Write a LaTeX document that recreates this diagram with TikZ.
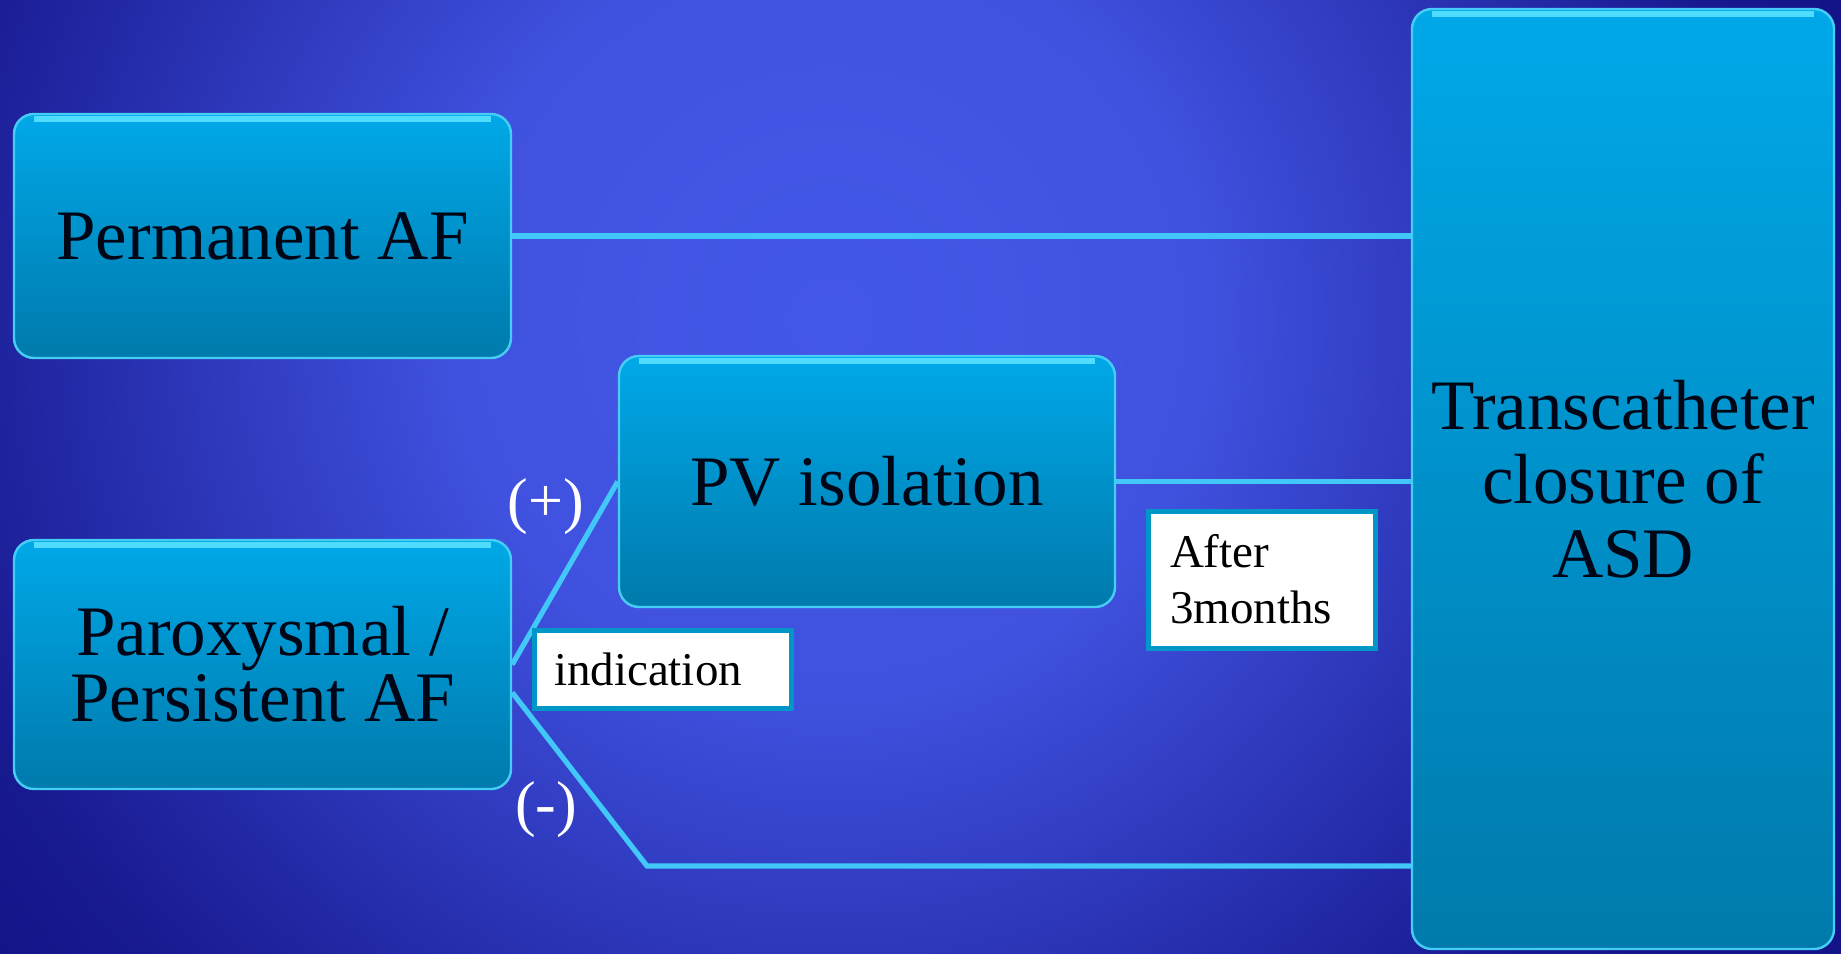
\documentclass[tikz,border=0pt]{standalone}
\usepackage{fontspec}
\setmainfont{Liberation Serif}
\definecolor{afbgin}{RGB}{68,88,232}
\definecolor{afbgout}{RGB}{20,20,136}
\definecolor{afboxtop}{RGB}{0,168,232}
\definecolor{afboxbot}{RGB}{0,122,172}
\definecolor{afedge}{RGB}{70,205,245}
\definecolor{afshine}{RGB}{80,220,255}
\definecolor{afink}{RGB}{0,6,22}
\definecolor{afframe}{RGB}{0,150,200}
\definecolor{afwire}{RGB}{66,200,248}

\pgfdeclareradialshading{afglow}{\pgfpoint{0bp}{0bp}}{color(0bp)=(afbgin);
  color(7.3bp)=(afbgin!90!afbgout); color(17.8bp)=(afbgin!8!afbgout);
  color(20.2bp)=(afbgout); color(50bp)=(afbgout)}

\tikzset{afbox/.style={rectangle,rounded corners=10pt,draw=afedge,line width=1.2pt,
           top color=afboxtop,bottom color=afboxbot,text=afink,align=center,inner sep=0pt,
           font=\fontsize{35.5}{33}\selectfont,
           path picture={\draw[afshine,line width=3pt]
             ([xshift=10pt,yshift=-2.5pt]path picture bounding box.north west) --
             ([xshift=-10pt,yshift=-2.5pt]path picture bounding box.north east);}},
         aflab/.style={rectangle,draw=afframe,line width=2.5pt,fill=white,text=black,
           align=left,inner ysep=0pt,font=\fontsize{23.5}{28}\selectfont},
         afline/.style={draw=afwire,line width=2.6pt},
         afsign/.style={text=white,font=\fontsize{31}{31}\selectfont}}

\begin{document}
\begin{tikzpicture}[x=0.5pt,y=-0.5pt]
  \begin{scope}
    \clip (0,0) rectangle (1841,953);
    \fill[afbgout] (0,0) rectangle (1841,953);
    \shade[shading=afglow] (830,320) circle (1300);
  \end{scope}
  \useasboundingbox (0,0) rectangle (1841,953);

  \node[afbox,minimum width=248.5pt,minimum height=122pt] (perm) at (262.5,236) {Permanent AF};
  \node[afbox,minimum width=248.5pt,minimum height=124.5pt] (parox) at (262.5,664.5) {Paroxysmal /\\Persistent AF};
  \node[afbox,minimum width=248pt,minimum height=125.5pt] (pviso) at (867,481.5) {PV isolation};
  \node[afbox,minimum width=211pt,minimum height=470pt,font=\fontsize{35.5}{37}\selectfont] (tcasd) at (1623,479) {Transcatheter\\closure of\\ASD};

  \draw[afline] (perm.east) -- (perm.east -| tcasd.west);
  \draw[afline] (pviso.east) -- (pviso.east -| tcasd.west);
  \draw[afline] (parox.east) -- (pviso.west);
  \coordinate (bend) at (647,866);
  \draw[afline] ([yshift=-14pt]parox.east) -- (bend) -- (bend -| tcasd.west);

  \node[afsign] (plus) at (546,507) {(+)};
  \node[afsign] (minus) at (546,810) {(-)};
  \node[aflab,text width=108.5pt,inner xsep=10pt,minimum height=39pt] (indic) at (662.5,669) {indication};
  \node[aflab,text width=91.5pt,inner xsep=11pt,minimum height=68.5pt] (after) at (1261.5,579.5) {After\\3months};
\end{tikzpicture}
\end{document}
